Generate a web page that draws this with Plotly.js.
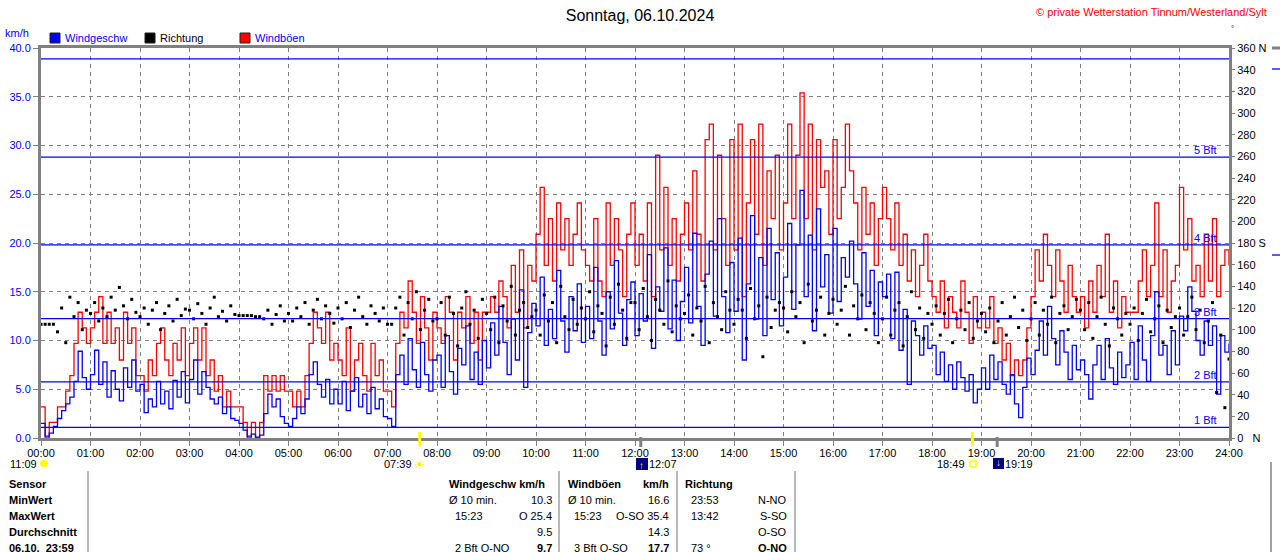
<!DOCTYPE html>
<html><head><meta charset="utf-8">
<script src="https://cdn.plot.ly/plotly-3.0.1.min.js"></script>
<style>html,body{margin:0;padding:0;background:#fff;overflow:hidden}#chart{width:1280px;height:552px}</style>
</head><body><div id="chart"></div>
<script>
// 5-minute samples, 00:00 .. 24:00 (289 values)
const windSpeed = [
1.5,0.2,0.5,1.2,2.0,2.8,3.5,4.2,5.8,8.9,6.2,5.0,
6.5,9.0,5.5,7.8,4.2,6.9,5.0,3.8,7.2,5.2,8.0,4.8,
5.5,2.6,4.0,3.2,5.8,3.5,4.8,3.0,5.9,4.2,6.8,3.6,
6.0,8.0,4.5,6.8,5.2,4.0,3.5,4.2,2.5,3.2,2.0,1.8,
1.5,0.8,0.2,0.4,0.1,0.3,2.5,4.5,3.2,4.0,2.2,1.5,
1.2,2.0,3.2,2.5,4.0,6.5,7.8,5.5,4.2,6.0,3.5,5.0,
3.5,5.8,2.8,4.8,6.2,3.2,4.5,2.5,5.2,3.0,4.0,2.2,
2.0,1.2,6.5,8.5,5.5,10.2,7.0,5.2,9.8,6.5,4.8,8.0,
8.5,5.2,10.5,6.8,4.5,9.2,7.5,11.5,6.0,8.8,5.5,10.0,
7.2,11.8,8.5,13.5,9.8,6.5,12.2,8.0,15.2,5.2,10.8,13.8,
11.5,16.5,9.5,13.2,10.2,17.2,12.0,8.8,14.5,11.0,15.8,9.8,
13.5,10.2,17.5,12.0,8.5,15.0,11.2,18.2,12.8,9.5,14.2,16.0,
10.5,14.8,12.0,18.8,9.2,15.5,13.0,19.5,11.2,16.2,10.0,14.0,
17.5,11.8,21.0,13.5,9.5,16.8,20.2,12.5,22.5,14.5,10.8,18.0,
13.0,20.5,8.0,15.8,22.8,12.2,18.5,10.5,21.5,14.2,19.0,11.5,
16.5,22.0,13.2,19.8,25.4,14.5,20.8,11.0,23.5,15.5,18.8,12.8,
21.5,14.0,18.5,16.5,20.2,15.8,12.2,19.0,13.5,17.2,10.5,16.0,
14.5,16.8,10.2,17.0,9.0,13.2,5.5,12.0,10.5,8.5,11.5,9.2,
9.5,6.5,8.8,5.8,7.5,5.0,7.8,6.2,4.8,6.5,3.6,5.0,
7.2,5.0,8.5,6.0,7.8,5.5,4.5,6.5,3.5,2.1,5.2,8.2,
6.5,9.0,12.0,8.5,13.5,10.2,7.5,11.0,8.8,6.0,9.5,7.0,
8.0,6.5,4.0,7.5,9.5,6.0,10.2,7.2,5.5,8.8,6.2,7.5,
9.8,6.0,11.5,8.0,5.8,10.5,15.0,8.5,9.5,6.5,11.0,7.5,
12.5,11.0,15.5,13.0,10.0,8.5,12.0,9.5,11.5,4.5,10.5,8.8,
9.7];
const windGust = [
3.2,0,1.6,1.6,3.2,3.2,4.8,6.4,9.7,12.9,11.3,9.7,
11.3,12.9,14.5,9.7,12.9,9.7,11.3,8.0,12.9,9.7,11.3,6.4,
6.4,4.8,8.0,6.4,9.7,11.3,8.0,6.4,9.7,8.0,11.3,6.4,
9.7,11.3,8.0,11.3,6.4,8.0,4.8,6.4,3.2,4.8,3.2,3.2,
3.2,1.6,0,1.6,0,1.6,6.4,4.8,6.4,4.8,6.4,4.8,
4.8,3.2,4.8,3.2,6.4,9.7,12.9,11.3,9.7,12.9,8.0,9.7,
8.0,6.4,11.3,4.8,8.0,9.7,6.4,4.8,9.7,6.4,8.0,4.8,
4.8,3.2,9.7,12.9,11.3,16.1,12.9,9.7,14.5,11.3,8.0,12.9,
11.3,9.7,14.5,12.9,8.0,12.9,11.3,14.5,9.7,12.9,8.0,12.9,
12.9,14.5,12.9,16.1,14.5,11.3,17.7,12.9,19.3,11.3,17.7,16.1,
20.9,25.7,17.7,22.5,16.1,24.1,19.3,22.5,17.7,20.9,24.1,19.3,
17.7,16.1,22.5,16.1,14.5,24.1,17.7,22.5,19.3,14.5,20.9,24.1,
17.7,20.9,16.1,24.1,14.5,29.0,19.3,25.7,17.7,22.5,16.1,20.9,
24.1,19.3,27.4,20.9,16.1,30.6,32.2,19.3,29.0,22.5,17.7,30.6,
19.3,32.2,14.5,24.1,30.6,20.9,32.2,17.7,27.4,22.5,29.0,19.3,
24.1,32.2,22.5,29.0,35.4,22.5,32.2,19.3,30.6,25.7,27.4,20.9,
30.6,22.5,25.7,32.2,27.4,24.1,19.3,25.7,20.9,24.1,17.7,22.5,
25.7,22.5,19.3,24.1,17.7,20.9,16.1,19.3,14.5,17.7,20.9,16.1,
14.5,12.9,16.1,11.3,14.5,12.9,11.3,16.1,12.9,9.7,14.5,11.3,
12.9,11.3,14.5,9.7,11.3,8.0,9.7,6.4,8.0,6.4,8.0,11.3,
14.5,19.3,16.1,20.9,17.7,14.5,19.3,16.1,12.9,17.7,14.5,12.9,
14.5,11.3,16.1,12.9,17.7,14.5,20.9,12.9,16.1,11.3,14.5,12.9,
12.9,12.9,16.1,19.3,14.5,17.7,24.1,14.5,19.3,12.9,16.1,17.7,
25.7,19.3,22.5,16.1,17.7,14.5,20.9,16.1,22.5,14.5,17.7,19.3,
17.7];
const windDir = [
105,105,105,105,98,120,88,130,112,125,100,118,
115,125,108,120,112,130,118,139,122,110,128,116,
112,120,105,118,125,100,115,122,108,128,113,119,
118,110,124,115,105,120,130,112,117,108,122,114,
113,113,113,113,112,112,110,118,105,114,122,108,
115,108,120,112,125,105,118,128,110,122,115,106,
120,110,125,102,118,130,112,105,122,115,108,120,
105,105,120,130,95,125,110,135,100,118,128,108,
110,125,95,130,115,85,120,135,105,118,92,128,
115,100,130,88,122,108,140,95,118,125,102,112,
118,95,132,108,125,88,140,112,100,128,105,120,
110,135,98,122,115,85,130,105,142,118,92,125,
125,100,138,112,90,128,118,105,145,98,122,110,
115,132,95,120,108,140,88,125,112,100,135,118,
105,128,118,92,138,110,122,75,130,102,118,125,
120,98,135,112,125,88,142,108,118,130,95,115,
128,105,118,140,95,122,110,132,100,125,115,88,
110,130,95,118,125,85,112,135,100,120,92,115,
105,122,95,115,128,88,110,118,100,125,92,108,
115,98,120,88,108,125,95,112,130,102,118,90,
110,125,95,118,105,130,88,115,122,100,112,128,
118,100,125,92,112,130,105,85,120,110,95,115,
105,120,90,115,128,98,110,122,88,118,102,112,
120,95,112,130,100,118,88,108,125,42,95,28,
73];
const timeLabels = ["00:00","01:00","02:00","03:00","04:00","05:00","06:00","07:00","08:00","09:00","10:00","11:00","12:00","13:00","14:00","15:00","16:00","17:00","18:00","19:00","20:00","21:00","22:00","23:00","24:00"];
const speedTicks = [0,5,10,15,20,25,30,35,40];
const dirTickVals = [0,20,40,60,80,100,120,140,160,180,200,220,240,260,280,300,320,340,360];
const dirTickText = ["0\u00a0\u00a0\u00a0N","20","40","60","80","100","120","140","160","180\u00a0S","200","220","240","260","280","300","320","340","360\u00a0N"];
const bftLevels = [1.08,5.76,12.24,19.8,28.8,38.88];
const bftNames = ["1 Bft","2 Bft","3 Bft","4 Bft","5 Bft",""];
const sunEventTimes = [7.65, 18.8167];
const moonEventTimes = [12.1167, 19.3167];
const eventLabels = ["07:39","18:49","12:07","19:19"];

const hoursX = windSpeed.map((_, i) => i / 12);
const hourTicks = timeLabels.map((_, i) => i);

const L = 41, R = 1229, T = 48, B = 438;
const px = x => (x - L) / (R - L);
const py = y => (B - y) / (B - T);
const FONT = 'Liberation Sans, Arial, sans-serif';

const traces = [
  {x: hoursX, y: windGust, type: 'scatter', mode: 'lines', line: {color: '#FF0000', width: 1.3, shape: 'hv'}, hoverinfo: 'skip'},
  {x: hoursX, y: windSpeed, type: 'scatter', mode: 'lines', line: {color: '#0000FF', width: 1.3, shape: 'hv'}, hoverinfo: 'skip'},
  {x: hoursX, y: windDir, yaxis: 'y2', type: 'scatter', mode: 'markers', marker: {symbol: 'square', size: 3, color: '#000'}, hoverinfo: 'skip'}
];

const ann = [];
function txt(x, y, text, opt) {
  opt = opt || {};
  ann.push({xref: 'paper', yref: 'paper', x: px(x), y: py(y), text: text, showarrow: false,
    xanchor: opt.anchor || 'left', yanchor: 'middle', borderpad: 0,
    font: {family: FONT, size: opt.size || 11, color: opt.color || '#000'}});
}
// header texts
txt(1268, 12, '© private Wetterstation Tinnum/Westerland/Sylt', {anchor: 'right', color: '#FF0000'});
txt(4, 33, 'km/h', {color: '#0000FF'});
txt(64, 38, 'Windgeschw', {color: '#0000FF'});
txt(159, 38, 'Richtung', {color: '#000'});
txt(254, 38, 'Windböen', {color: '#0000FF'});
txt(1232, 29, '°', {anchor: 'center', size: 8});
// Beaufort labels
bftLevels.forEach((v, i) => {
  if (!bftNames[i]) return;
  ann.push({xref: 'paper', yref: 'y', x: px(1218), y: v, text: bftNames[i], showarrow: false,
    xanchor: 'right', yanchor: 'bottom', yshift: 0, borderpad: 0,
    font: {family: FONT, size: 11, color: '#0000FF'}});
});
// event labels
txt(38, 464, '11:09', {anchor: 'right'});
txt(413, 464, eventLabels[0], {anchor: 'right'});
txt(420, 464, '☀', {anchor: 'center', color: '#FFEE00', size: 13});
txt(966, 464, eventLabels[1], {anchor: 'right'});
txt(648, 464, eventLabels[2]);
txt(1004, 464, eventLabels[3]);
txt(642, 465, '↑', {anchor: 'center', color: '#FFFF00', size: 10});
txt(998, 462, '↓', {anchor: 'center', color: '#FFFF00', size: 10});
// table
const rows = [484, 500, 516, 532, 548];
['Sensor', 'MinWert', 'MaxWert', 'Durchschnitt', '06.10.\u00a0 23:59'].forEach((t, i) => txt(8, rows[i], '<b>' + t + '</b>'));
txt(448, rows[0], '<b>Windgeschw km/h</b>');
txt(448, rows[1], 'Ø 10 min.'); txt(553, rows[1], '10.3', {anchor: 'right'});
txt(454, rows[2], '15:23'); txt(553, rows[2], 'O 25.4', {anchor: 'right'});
txt(553, rows[3], '9.5', {anchor: 'right'});
txt(454, rows[4], '2 Bft O-NO'); txt(553, rows[4], '<b>9.7</b>', {anchor: 'right'});
txt(567, rows[0], '<b>Windböen</b>'); txt(670, rows[0], '<b>km/h</b>', {anchor: 'right'});
txt(567, rows[1], 'Ø 10 min.'); txt(670, rows[1], '16.6', {anchor: 'right'});
txt(573, rows[2], '15:23'); txt(670, rows[2], 'O-SO 35.4', {anchor: 'right'});
txt(670, rows[3], '14.3', {anchor: 'right'});
txt(573, rows[4], '3 Bft O-SO'); txt(670, rows[4], '<b>17.7</b>', {anchor: 'right'});
txt(684, rows[0], '<b>Richtung</b>');
txt(690, rows[1], '23:53'); txt(788, rows[1], 'N-NO', {anchor: 'right'});
txt(690, rows[2], '13:42'); txt(788, rows[2], 'S-SO', {anchor: 'right'});
txt(788, rows[3], 'O-SO', {anchor: 'right'});
txt(690, rows[4], '73 °'); txt(788, rows[4], '<b>O-NO</b>', {anchor: 'right'});

const shapes = [];
bftLevels.forEach(v => shapes.push({type: 'line', xref: 'paper', yref: 'y', x0: 0, x1: 1, y0: v, y1: v, line: {color: '#0000FF', width: 1.3}, layer: 'above'}));
// legend squares
[[50, '#0000FF'], [145, '#000000'], [240, '#FF0000']].forEach(([x, c]) => shapes.push({type: 'rect', xref: 'paper', yref: 'paper', x0: px(x), x1: px(x + 10), y0: py(43), y1: py(33), fillcolor: c, line: {color: '#202020', width: 1}}));
// sun / moon event marks on the time axis
sunEventTimes.forEach(t => shapes.push({type: 'line', xref: 'paper', yref: 'paper', x0: t / 24, x1: t / 24, y0: py(446), y1: py(432), line: {color: '#FFFF00', width: 3}}));
moonEventTimes.forEach(t => shapes.push({type: 'line', xref: 'paper', yref: 'paper', x0: t / 24, x1: t / 24, y0: py(447), y1: py(437), line: {color: '#808080', width: 3}}));
// icons
shapes.push({type: 'circle', xref: 'paper', yref: 'paper', x0: px(40), x1: px(48), y0: py(467), y1: py(460), fillcolor: '#FFFF00', line: {width: 0}});
shapes.push({type: 'rect', xref: 'paper', yref: 'paper', x0: px(970), x1: px(976), y0: py(467), y1: py(461), fillcolor: 'rgba(0,0,0,0)', line: {color: '#FFFF00', width: 1.5}});
shapes.push({type: 'rect', xref: 'paper', yref: 'paper', x0: px(636), x1: px(648), y0: py(470), y1: py(458), fillcolor: '#000080', line: {width: 0}, layer: 'below'});
shapes.push({type: 'rect', xref: 'paper', yref: 'paper', x0: px(993), x1: px(1004), y0: py(469), y1: py(458), fillcolor: '#000080', line: {width: 0}, layer: 'below'});
// table separators
[88, 559, 677, 795].forEach(x => shapes.push({type: 'line', xref: 'paper', yref: 'paper', x0: px(x), x1: px(x), y0: py(552), y1: py(471), line: {color: '#A0A0A0', width: 1.5}}));
// neighbouring chart edge on the right
shapes.push({type: 'line', xref: 'paper', yref: 'paper', x0: px(1272), x1: px(1280), y0: py(48), y1: py(48), line: {color: '#808080', width: 3}});
shapes.push({type: 'line', xref: 'paper', yref: 'paper', x0: px(1272), x1: px(1280), y0: py(69), y1: py(69), line: {color: '#0000FF', width: 1.3}});
shapes.push({type: 'line', xref: 'paper', yref: 'paper', x0: px(1272), x1: px(1280), y0: py(255), y1: py(255), line: {color: '#0000FF', width: 1.3}});
shapes.push({type: 'line', xref: 'paper', yref: 'paper', x0: px(1271), x1: px(1271), y0: py(552), y1: py(462), line: {color: '#A0A0A0', width: 2}});

const axisCommon = {showline: true, linecolor: '#808080', linewidth: 3, mirror: true, ticks: 'outside', ticklen: 5, tickcolor: '#808080', tickwidth: 1, zeroline: false, fixedrange: true};
const layout = {
  width: 1280, height: 552,
  margin: {l: L, r: 1280 - R, t: T, b: 552 - B, pad: 0},
  paper_bgcolor: '#fff', plot_bgcolor: '#fff', showlegend: false,
  font: {family: FONT, size: 11, color: '#000'},
  title: {text: 'Sonntag, 06.10.2024', xref: 'container', x: 640 / 1280, xanchor: 'center', yref: 'container', y: 1 - 15 / 552, yanchor: 'middle', font: {family: FONT, size: 16, color: '#000'}},
  xaxis: Object.assign({}, axisCommon, {range: [0, 24], tickvals: hourTicks, ticktext: timeLabels, showgrid: true, gridcolor: '#808080', gridwidth: 1, griddash: '4px,4px', ticklabelstandoff: -2, tickfont: {family: FONT, size: 11, color: '#000'}}),
  yaxis: Object.assign({}, axisCommon, {range: [0, 40], tickvals: speedTicks, tickformat: '.1f', showgrid: true, gridcolor: '#808080', gridwidth: 1, griddash: '4px,4px', tickfont: {family: FONT, size: 11, color: '#0000FF'}}),
  yaxis2: {overlaying: 'y', side: 'right', range: [0, 360], tickvals: dirTickVals, ticktext: dirTickText, showgrid: false, zeroline: false, showline: false, ticks: 'outside', ticklen: 5, tickcolor: '#808080', fixedrange: true, tickfont: {family: FONT, size: 11, color: '#000'}},
  annotations: ann,
  shapes: shapes
};
Plotly.newPlot('chart', traces, layout, {staticPlot: true, displayModeBar: false});
</script></body></html>
